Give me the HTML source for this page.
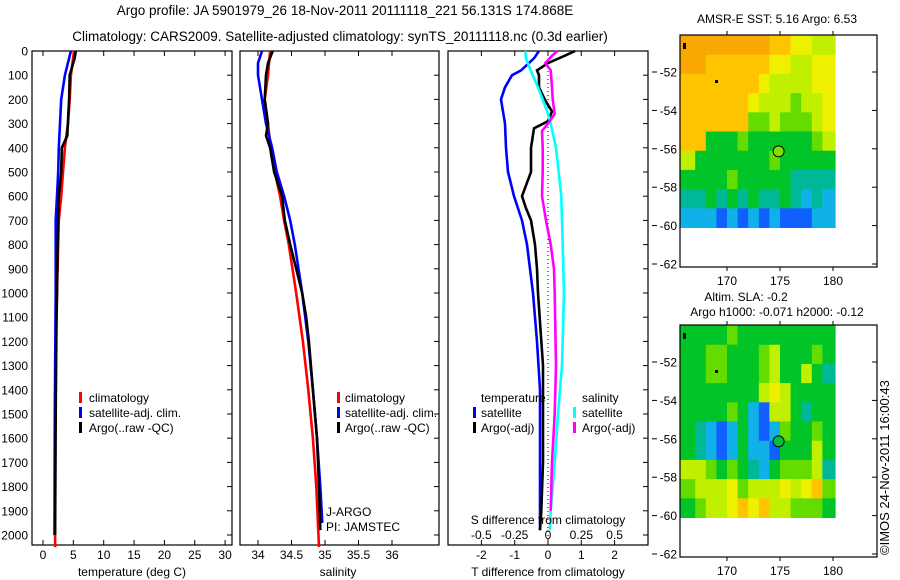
<!DOCTYPE html>
<html><head><meta charset="utf-8">
<style>
html,body{margin:0;padding:0;background:#fff;}
svg{display:block;font-family:"Liberation Sans",sans-serif;}
</style></head>
<body>
<svg id="c" width="900" height="580" xmlns="http://www.w3.org/2000/svg">
<rect width="900" height="580" fill="#fff"/>
<text x="345" y="15" font-size="13.5" text-anchor="middle">Argo profile: JA 5901979_26 18-Nov-2011 20111118_221 56.131S 174.868E</text>
<text x="340" y="41" font-size="13.5" text-anchor="middle">Climatology: CARS2009. Satellite-adjusted climatology: synTS_20111118.nc (0.3d earlier)</text>
<g id="g"></g>
<text transform="translate(889,555) rotate(-90)" font-size="13">©IMOS 24-Nov-2011 16:00:43</text>
</svg>
<script>
// ---- data ----
const depthTicks=[0,100,200,300,400,500,600,700,800,900,1000,1100,1200,1300,1400,1500,1600,1700,1800,1900,2000];
const tempTicks=[0,5,10,15,20,25,30];
const salTicks=[34,34.5,35,35.5,36];
const tdiffTicks=[-2,-1,0,1,2];
const sdiffTicks=[-0.5,-0.25,0,0.25,0.5];
const sdiffLabels=["-0.5","-0.25","0","0.25","0.5"];

const climDepth=[0,100,200,300,400,500,600,700,800,1000,1200,1500,2000,2050];
const climTemp=[5.1,4.6,4.4,4.1,3.6,3.3,3.0,2.6,2.5,2.3,2.1,2.05,2.0,2.0];
const satDepth=[0,100,200,300,400,500,600,700,1000,1500,2000];
const satTemp=[4.6,3.6,3.0,2.8,2.6,2.5,2.3,2.1,2.1,1.95,1.9];
const argoDepth=[0,30,100,200,300,350,400,500,600,700,800,1000,1150,1500,2000];
const argoTemp=[5.4,5.2,4.4,4.3,4.1,4.0,3.1,3.0,2.6,2.5,2.4,2.3,2.2,2.1,2.0];

const climSDepth=[0,100,200,300,400,500,600,700,800,1000,1200,1400,1600,1800,2050];
const climSal=[34.18,34.15,34.1,34.15,34.19,34.25,34.33,34.39,34.46,34.57,34.67,34.75,34.82,34.87,34.91];
const satSDepth=[0,50,100,200,300,400,500,600,700,800,1000,1200,1400,1600,1800,1950];
const satSal=[34.06,34.0,34.0,34.06,34.12,34.21,34.28,34.39,34.48,34.55,34.66,34.75,34.82,34.88,34.93,34.96];
const argoSDepth=[0,50,100,200,300,350,400,500,600,700,800,900,1000,1100,1200,1400,1600,1800,1980];
const argoSal=[34.22,34.15,34.12,34.1,34.15,34.12,34.18,34.24,34.36,34.4,34.48,34.57,34.66,34.72,34.76,34.82,34.88,34.91,34.93];

const dTDepth=[0,30,80,100,150,200,300,400,500,600,700,800,900,1000,1200,1400,1700,1980];
const satDT=[-0.27,-0.42,-0.81,-1.08,-1.29,-1.41,-1.29,-1.26,-1.2,-1.02,-0.78,-0.63,-0.54,-0.45,-0.33,-0.24,-0.24,-0.24];
const aDTDepth=[0,20,50,80,100,150,200,250,290,320,400,500,600,650,700,800,900,1000,1300,1500,1700,1900,1980];
const argoDT=[0.81,0.5,0,-0.33,-0.27,-0.27,-0.1,0.12,0,-0.42,-0.51,-0.51,-0.78,-0.66,-0.51,-0.39,-0.33,-0.3,-0.15,-0.15,-0.15,-0.2,-0.24];
const sDSDepth=[0,30,80,150,200,260,300,400,500,600,700,800,1000,1300,1500,1700,1900,1980];
const satDS=[-0.17,-0.165,-0.13,-0.075,-0.04,0,0.02,0.06,0.08,0.1,0.105,0.11,0.12,0.105,0.075,0.05,0.02,0.015];
const aDSDepth=[0,20,50,80,150,200,260,300,330,400,500,600,700,800,900,1000,1300,1500,1700,1900];
const argoDS=[0.07,0.03,-0.02,0.02,0.03,0.035,0.05,0,-0.045,-0.04,-0.04,-0.045,-0.015,0.02,0.045,0.05,0.06,0.05,0.03,0.02];

// map grids: lat rows -50..-60, lon cols 166..179 ; palette index 0..9
const sstGrid=[
[9,9,9,9,9,9,9,9,8,8,7,7,6,6],
[9,9,8,8,8,8,8,8,7,7,6,6,7,7],
[8,8,8,8,8,8,8,7,6,6,6,6,7,7],
[8,8,8,8,8,8,7,6,6,6,5,6,6,7],
[8,8,8,8,8,8,5,5,6,5,5,5,6,7],
[8,8,4,4,4,5,4,4,4,4,4,4,5,6],
[6,4,4,4,4,4,4,4,5,4,4,4,4,4],
[4,4,4,4,5,4,4,4,4,4,3,3,3,3],
[3,3,4,3,4,3,4,3,3,4,3,2,3,2],
[2,2,2,1,2,1,2,1,2,1,1,1,2,2]];
const slaGrid=[
[4,4,4,4,5,4,4,4,4,4,4,4,4,4],
[4,4,5,5,4,4,4,5,6,4,4,4,5,4],
[4,4,5,5,4,4,4,5,6,4,4,6,4,3],
[4,4,4,4,4,4,4,6,7,6,4,4,4,4],
[4,4,4,4,5,4,2,1,6,6,4,3,4,4],
[4,3,2,1,2,4,2,1,2,5,4,4,5,4],
[4,3,2,1,2,4,2,2,1,4,4,4,6,4],
[6,6,5,4,5,4,3,2,4,5,5,5,6,3],
[5,6,6,6,7,5,6,6,6,7,6,7,8,5],
[4,5,6,6,7,8,7,8,6,6,5,5,5,4]];
const mapLatTicks=[-52,-54,-56,-58,-60,-62];
const mapLonTicks=[170,175,180];
const argoLon=174.868, argoLat=-56.131;

const palette=["#0018b0","#1060ff","#10b0e8","#00b898","#00c428","#64dc00","#c0f000","#eef000","#ffc400","#f8a800"];

// ---- helpers ----
const NS="http://www.w3.org/2000/svg";
const G=document.getElementById('g');
function el(tag,attrs,parent){const e=document.createElementNS(NS,tag);for(const k in attrs)e.setAttribute(k,attrs[k]);(parent||G).appendChild(e);return e;}
function txt(x,y,s,size,anchor,parent){const t=el('text',{x:x,y:y,'font-size':size||12,'text-anchor':anchor||'middle'},parent);t.textContent=s;return t;}

const Y=d=>51+d*0.242;
const PT=51, PB=545;

function panel(name,x0,x1){
  const g=el('g',{});
  
  
  el('rect',{x:x0,y:PT,width:x1-x0,height:PB-PT,fill:'none',stroke:'#000','stroke-width':1.2},g);
  depthTicks.forEach(d=>{el('line',{x1:x1,x2:x1-5,y1:Y(d),y2:Y(d),stroke:'#000'},g);});
  return g;
}
function line(g,name,xs,ds,fx,color,w){
  const p=el('polyline',{points:xs.map((v,i)=>fx(v).toFixed(1)+','+Y(ds[i]).toFixed(1)).join(' '),fill:'none',stroke:color,'stroke-width':w||2.6,'stroke-linejoin':'miter'},g);
  
  
}
function legendMark(g,x,y,color){el('rect',{x:x,y:y-6,width:3,height:11,fill:color},g);}

const ya=el('g',{});


depthTicks.forEach(d=>txt(28,Y(d)+4.5,String(d),12,'end',ya));

// ---- panel 1 temperature ----
const XT=t=>43+t*6.07;
const p1=panel('temperature-panel',32,232);
tempTicks.forEach(t=>{el('line',{x1:XT(t),x2:XT(t),y1:PT,y2:PT+5,stroke:'#000'},p1);el('line',{x1:XT(t),x2:XT(t),y1:PB,y2:PB-5,stroke:'#000'},p1);txt(XT(t),559,String(t),12,'middle',p1);});
txt(132,576,'temperature (deg C)',12,'middle',p1);
line(p1,'temp-climatology-line',climTemp,climDepth,XT,'#f00');
line(p1,'temp-satellite-line',satTemp,satDepth,XT,'#00f');
line(p1,'temp-argo-line',argoTemp,argoDepth,XT,'#000');
[['climatology','#f00'],['satellite-adj. clim.','#00f'],['Argo(..raw -QC)','#000']].forEach((l,i)=>{legendMark(p1,79,398+i*15,l[1]);const t=txt(89,402+i*15,l[0],12,'start',p1);});

// ---- panel 2 salinity ----
const XS=s=>258+(s-34)*67;
const p2=panel('salinity-panel',240,439);
salTicks.forEach(s=>{el('line',{x1:XS(s),x2:XS(s),y1:PT,y2:PT+5,stroke:'#000'},p2);el('line',{x1:XS(s),x2:XS(s),y1:PB,y2:PB-5,stroke:'#000'},p2);txt(XS(s),559,String(s),12,'middle',p2);});
txt(338,576,'salinity',12,'middle',p2);
line(p2,'sal-climatology-line',climSal,climSDepth,XS,'#f00');
line(p2,'sal-satellite-line',satSal,satSDepth,XS,'#00f');
line(p2,'sal-argo-line',argoSal,argoSDepth,XS,'#000');
[['climatology','#f00'],['satellite-adj. clim.','#00f'],['Argo(..raw -QC)','#000']].forEach((l,i)=>{legendMark(p2,337,398+i*15,l[1]);const t=txt(345,402+i*15,l[0],12,'start',p2);});
txt(326,516,'J-ARGO',12,'start',p2);
txt(326,531,'PI: JAMSTEC',12,'start',p2);

// ---- panel 3 differences ----
const XD=t=>548+t*33.3;
const XDS=s=>548+s*133.3;
const p3=panel('difference-panel',448,648);
tdiffTicks.forEach(t=>{el('line',{x1:XD(t),x2:XD(t),y1:PT,y2:PT+5,stroke:'#000'},p3);el('line',{x1:XD(t),x2:XD(t),y1:PB,y2:PB-5,stroke:'#000'},p3);txt(XD(t),559,String(t),12,'middle',p3);});
el('line',{x1:548,x2:548,y1:PT,y2:PB,stroke:'#000','stroke-dasharray':'1,3'},p3);
line(p3,'tdiff-satellite-line',satDT,dTDepth,XD,'#00f');
line(p3,'tdiff-argo-line',argoDT,aDTDepth,XD,'#000');
line(p3,'sdiff-satellite-line',satDS,sDSDepth,XDS,'#0ff');
line(p3,'sdiff-argo-line',argoDS,aDSDepth,XDS,'#f0f');
txt(548,576,'T difference from climatology',12,'middle',p3);
txt(548,524,'S difference from climatology',12,'middle',p3);
sdiffTicks.forEach((s,i)=>txt(XDS(s),539,sdiffLabels[i],12,'middle',p3));
txt(481,402,'temperature',12,'start',p3);
legendMark(p3,473,413,'#00f');txt(481,417,'satellite',12,'start',p3);
legendMark(p3,473,428,'#000');txt(481,432,'Argo(-adj)',12,'start',p3);
txt(582,402,'salinity',12,'start',p3);
legendMark(p3,573,413,'#0ff');txt(582,417,'satellite',12,'start',p3);
legendMark(p3,573,428,'#f0f');txt(582,432,'Argo(-adj)',12,'start',p3);

// ---- maps ----
function map(name,top,grid,titles,circleColor){
  const g=el('g',{});
  
  
  const LY=lat=>top+37+(-52-lat)*19.2;
  const LX=lon=>727+(lon-170)*10.6;
  grid.forEach((row,r)=>row.forEach((v,c)=>{
    const x=c==0?680:LX(166+c);
    const xe=c==row.length-1?LX(180.2):LX(167+c);
    const y=LY(-50.1-r);
    el('rect',{x:x,y:y,width:xe-x+0.5,height:19.7,fill:palette[v]},g);
  }));
  el('rect',{x:680,y:top,width:197,height:232,fill:'none',stroke:'#000','stroke-width':1.2},g);
  mapLatTicks.forEach(l=>{el('line',{x1:877,x2:872,y1:LY(l),y2:LY(l),stroke:'#000'},g);el('line',{x1:652,x2:657,y1:LY(l),y2:LY(l),stroke:'#000'},g);txt(677,LY(l)+4.5,String(l),12,'end',g);});
  mapLonTicks.forEach(l=>{el('line',{x1:LX(l),x2:LX(l),y1:top,y2:top-4,stroke:'#000'},g);el('line',{x1:LX(l),x2:LX(l),y1:top+232,y2:top+236,stroke:'#000'},g);txt(LX(l),top+250,String(l),12,'middle',g);});
  titles.forEach(t=>txt(t[1],t[2],t[0],12,'middle',g));
  el('rect',{x:683,y:top+8,width:3,height:6,fill:'#000'},g);
  el('rect',{x:715,y:top+45,width:3,height:3,fill:'#000'},g);
  const c=el('circle',{cx:LX(argoLon),cy:LY(argoLat),r:5.5,fill:circleColor,stroke:'#000','stroke-width':1},g);
  
  
}
map('sst-map',35,sstGrid,[['AMSR-E SST: 5.16 Argo: 6.53',777,23]],'#80e000');
map('sla-map',325,slaGrid,[['Altim. SLA: -0.2',746,301],['Argo h1000: -0.071 h2000: -0.12',777,316]],'#00c040');
</script>
</body></html>
